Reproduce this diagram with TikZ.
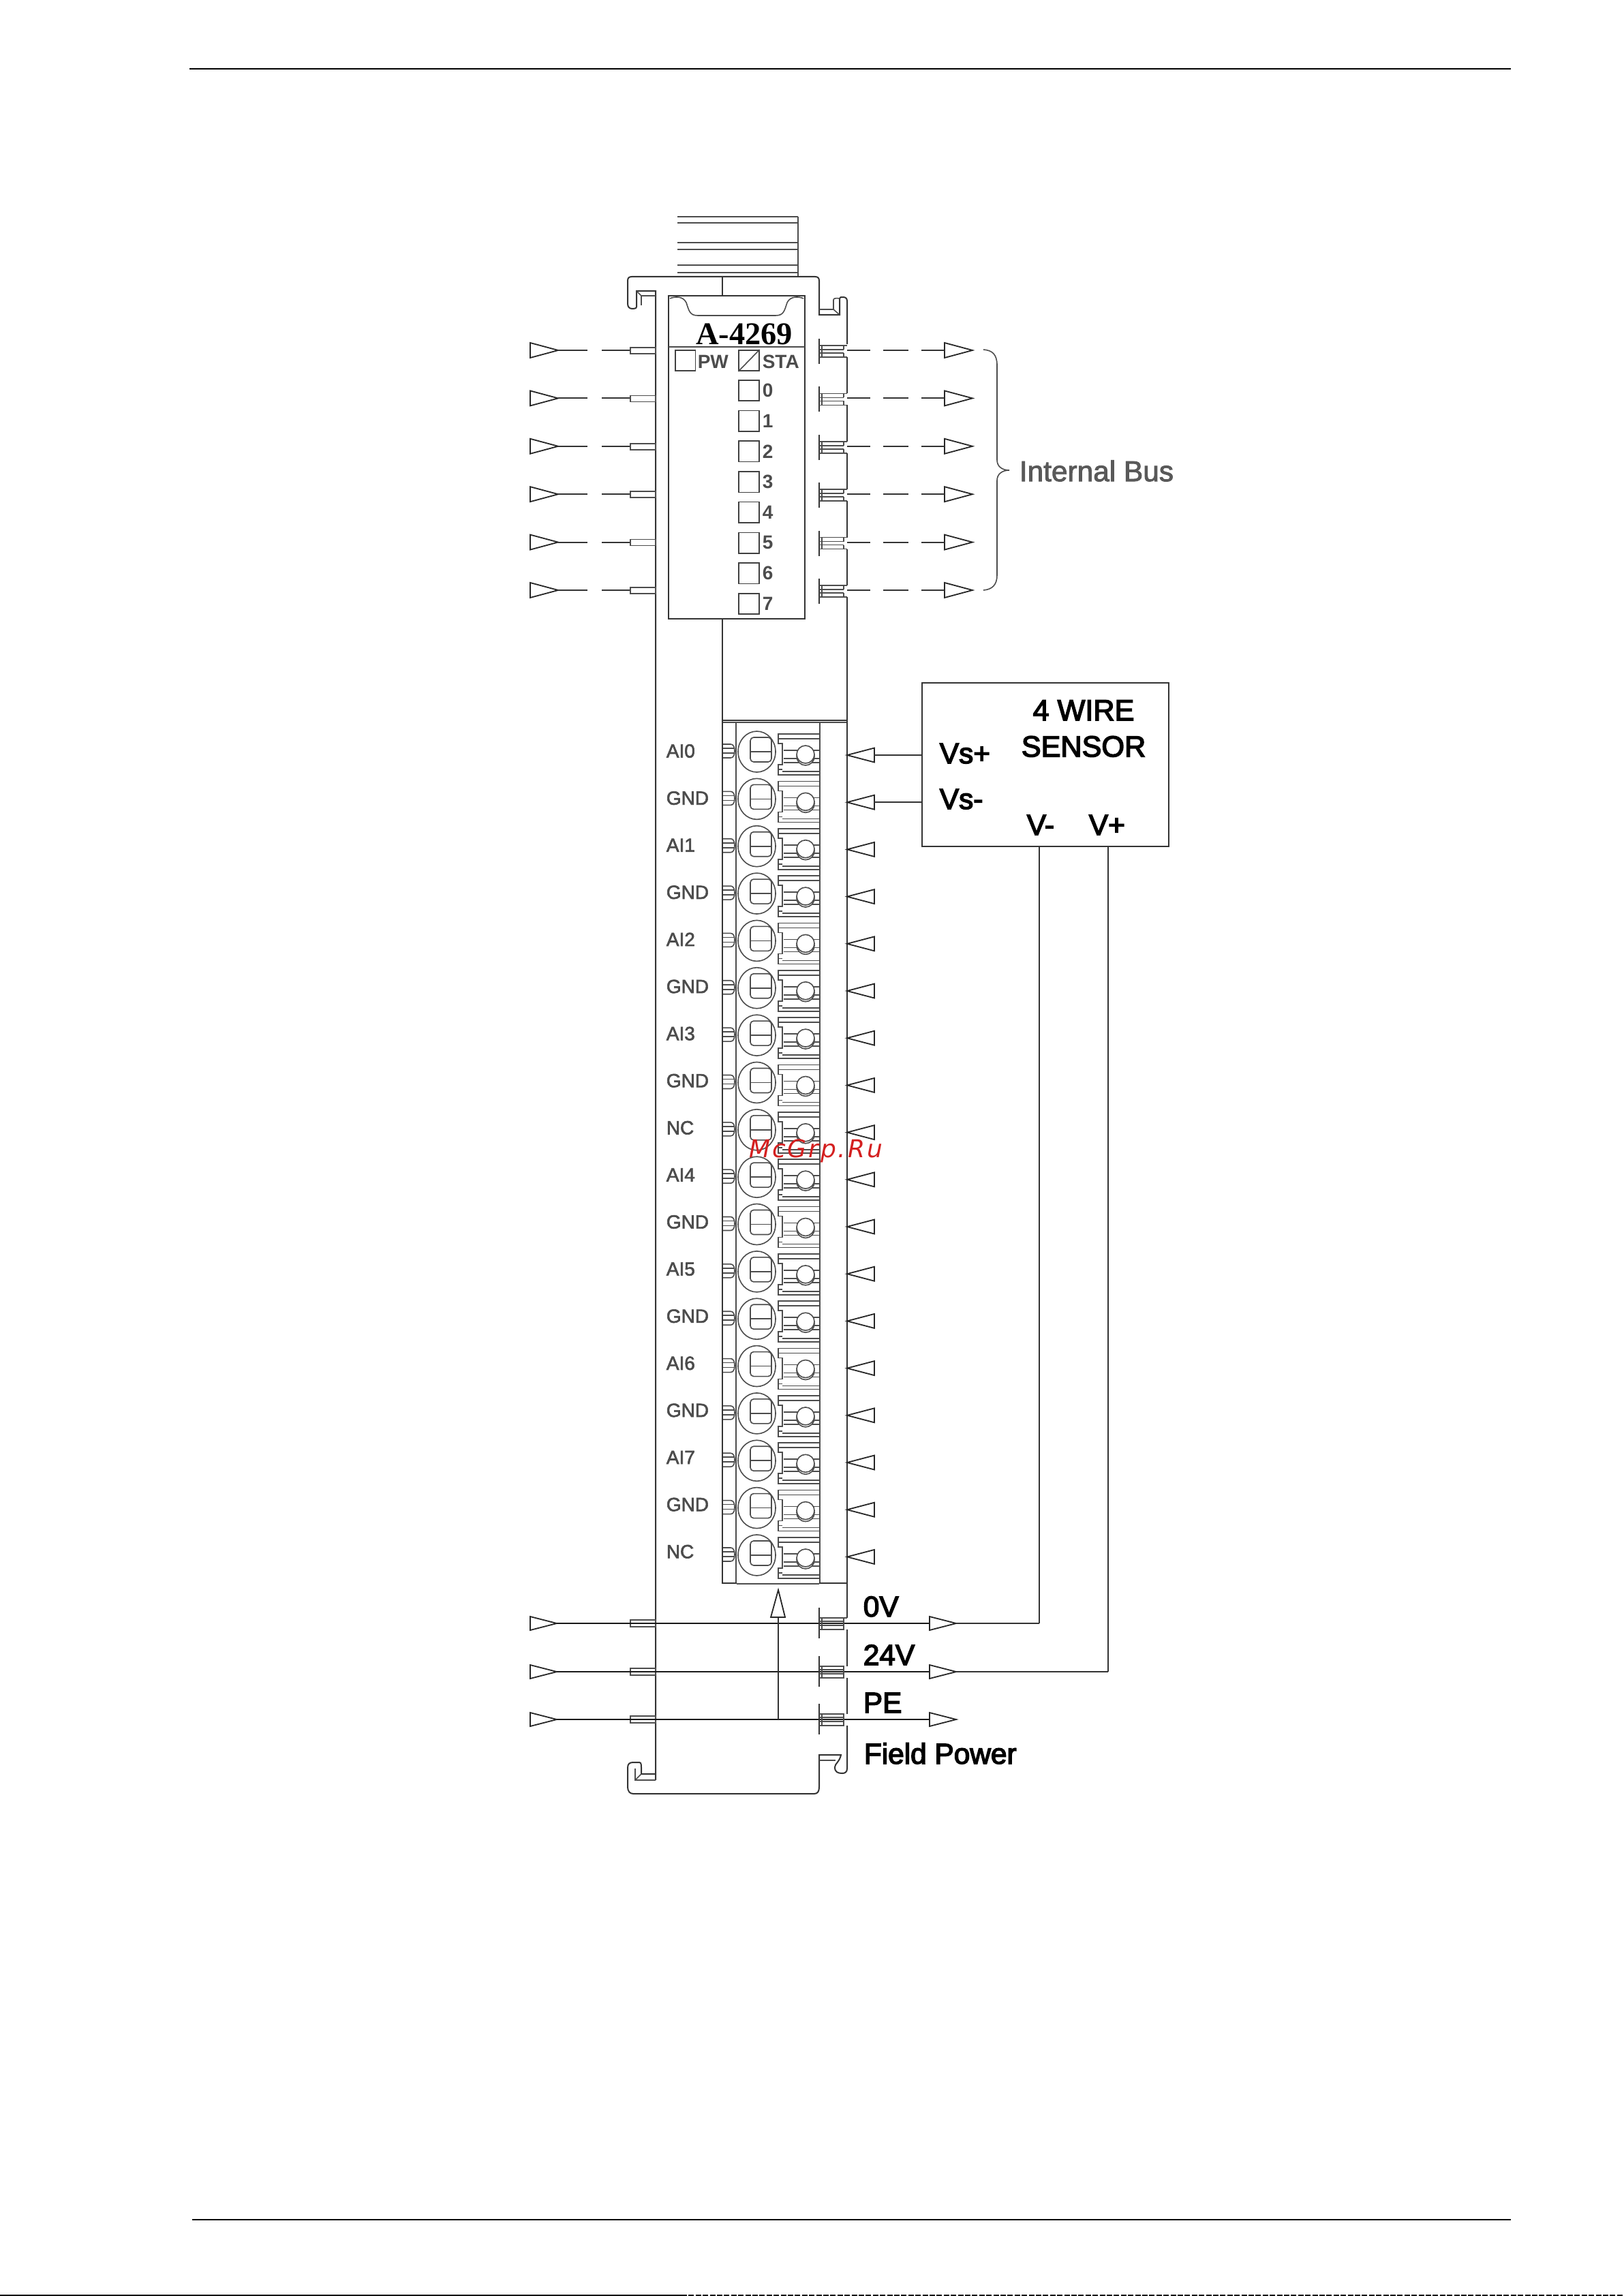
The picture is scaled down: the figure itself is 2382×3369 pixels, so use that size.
\documentclass[tikz,border=0pt]{standalone}
\usepackage{fontspec}
\setmainfont{Liberation Sans}
\newfontfamily\titlefont{Liberation Serif}
\newfontfamily\heavyfont[FakeBold=3.5]{Liberation Sans}
\newfontfamily\lightfont[FakeBold=2.2]{Liberation Sans}
\newfontfamily\stampfont[LetterSpace=8]{DejaVu Sans}
\tikzset{
    rule/.style={draw=black, line width=0.65pt},
    wire/.style={draw=black!80, line width=0.5pt},
    thin wire/.style={draw=black!70, line width=0.4pt},
    tip/.style={draw=black!85, fill=white, line width=0.45pt},
    pinlabel/.style={inner sep=0pt, anchor=west, text=black!70, font=\lightfont\fontsize{7}{8}\selectfont},
    ledlabel/.style={inner sep=0pt, anchor=west, text=black!70, font=\fontsize{7}{8}\selectfont\bfseries},
    sensorlabel/.style={inner sep=0pt, anchor=base west, font=\heavyfont\fontsize{10.6}{12}\selectfont},
    buslabel/.style={inner sep=0pt, anchor=west, text=black!65, font=\lightfont\fontsize{10.6}{12}\selectfont},
    led/.style={draw=black!75, line width=0.4pt, inner sep=0pt, minimum width=7.4pt, minimum height=7.6pt},
    sensorbox/.style={draw=black!80, line width=0.6pt, inner sep=0pt, minimum width=90.5pt, minimum height=60pt},
}
\begin{document}
\begin{tikzpicture}[x=0.25pt, y=-0.25pt]
    \useasboundingbox (0,0) rectangle (2382,3369);

    % page rules
    \coordinate (headL) at (278,101);
    \coordinate (headR) at (2217,101);
    \coordinate (footL) at (282,3257);
    \coordinate (footR) at (2217,3257);
    \coordinate (edgeL) at (0,3368);
    \coordinate (edgeM) at (1000,3368);
    \coordinate (edgeR) at (2382,3368);
    \draw[rule] (headL) -- (headR);
    \draw[rule] (footL) -- (footR);
    \draw[rule] (edgeL) -- (edgeM);
    \draw[rule, dash pattern=on 2pt off 0.6pt] (edgeM) -- (edgeR);

    % connector at the top
    \foreach \y in {318,327,356,366,389,400} {
        \draw[thin wire] (994,\y) -- (1171,\y);
    }
    \draw[thin wire] (1171,318) -- (1171,406);

    % housing, top
    \draw[wire] (962,2612) -- (962,427) -- (934,427) -- (934,450) .. controls (934,453) and (930,453) .. (928,453)
        .. controls (923,453) and (921,450) .. (921,445) -- (921,412) .. controls (921,408) and (923,406) .. (927,406)
        -- (1196,406) .. controls (1200,406) and (1202,408) .. (1202,412) -- (1202,462) -- (1232,462) -- (1232,438)
        .. controls (1232,436) and (1234,436) .. (1237,436) .. controls (1241,436) and (1243,438) .. (1243,442) -- (1243,505);
    \draw[thin wire] (962,434) -- (941,434) -- (941,448);
    \draw[thin wire] (934,427) -- (941,434);
    \draw[thin wire] (1202,454) -- (1223,454) -- (1223,440) .. controls (1223,438) and (1226,437) .. (1232,438);
    \draw[thin wire] (1223,454) -- (1232,462);

    % front plate
    \draw[wire, line width=0.6pt] (981,434) rectangle (1181,908);
    \draw[thin wire] (981,509) -- (1181,509);
    \draw[thin wire] (983,438) .. controls (990,435) and (1002,434) .. (1007,444) .. controls (1011,456) and (1012,463) .. (1024,463)
        -- (1138,463) .. controls (1150,463) and (1151,456) .. (1155,444) .. controls (1160,434) and (1172,435) .. (1179,438);
    \draw[wire] (1060,406) -- (1060,434);
    \draw[wire] (1060,908) -- (1060,1057);
    \node[inner sep=0pt, font=\titlefont\fontsize{11.6}{13}\selectfont\bfseries] (title) at (1092,490) {A-4269};

    % leds
    \node[led, minimum width=7.4pt] (pw) at (1005.5,529) {};
    \node[ledlabel] (pwtext) at (1023,531) {PW};
    \node[led] (sta) at (1099,529) {};
    \draw[thin wire] (sta.south west) -- (sta.north east);
    \node[ledlabel] (statext) at (1118,531) {STA};
    \foreach \i in {0,...,7} {
        \node[led] (led\i) at (1099,{573+\i*44.7}) {};
        \node[ledlabel] at (1118,{573+\i*44.7}) {\i};
    }

    % internal bus rows
    \foreach \i in {0,...,5} {
        \pgfmathsetmacro{\rowy}{514+\i*70.4}
        \pgfmathsetmacro{\rowa}{\rowy-7}
        \pgfmathsetmacro{\rowb}{\rowy+10}
        \coordinate (busL\i) at (819,\rowy);
        \coordinate (busR\i) at (1427,\rowy);
        \filldraw[tip] (busL\i) -- ++(-41,-11) -- ++(0,22) -- cycle;
        \draw[wire, dash pattern=on 10.75pt off 5.25pt] (busL\i) -- (925,\rowy);
        \draw[thin wire] (925,\rowy-4) rectangle (962,\rowy+5);
        \filldraw[tip] (busR\i) -- ++(-41,-11) -- ++(0,22) -- cycle;
        \draw[wire, dash pattern=on 8.5pt off 4.75pt on 9.25pt off 4.75pt] (1243,\rowy) -- (1386,\rowy);
        % notch in the wall
        \draw[wire] (1202,\rowy-17) -- (1202,\rowy+20);
        \draw[thin wire] (1206,\rowy-7) -- (1206,\rowy+10);
        \draw[thin wire] (1202,\rowa) -- (1243,\rowa);
        \draw[thin wire] (1202,\rowb) -- (1243,\rowb);
        \draw[thin wire] (1202,\rowy-1) -- (1238,\rowy-1);
        \draw[thin wire] (1202,\rowy+4) -- (1238,\rowy+4);
        \draw[thin wire] (1238,\rowa) -- (1238,\rowy-1);
        \draw[thin wire] (1238,\rowy+4) -- (1238,\rowb);
        \ifnum\i<5
            \draw[wire] (1243,\rowb) -- (1243,\rowa+70.4);
        \else
            \draw[wire] (1243,\rowb) -- (1243,1057);
        \fi
    }

    % brace for the bus
    \draw[thin wire] (1443,513) .. controls (1456,514) and (1463,520) .. (1463,536) -- (1463,675)
        .. controls (1463,684) and (1470,690) .. (1481,690) .. controls (1470,690) and (1463,696) .. (1463,705)
        -- (1463,844) .. controls (1463,858) and (1456,865) .. (1443,866);
    \node[buslabel] (bustext) at (1495,691) {Internal Bus};

    % terminal block
    \draw[wire] (1060,1057) -- (1243,1057);
    \draw[thin wire] (1060,1060) -- (1243,1060);
    \draw[wire] (1060,1057) -- (1060,2324);
    \draw[thin wire] (1080,1060) -- (1080,2324);
    \draw[thin wire] (1203,1060) -- (1203,2324);
    \draw[wire] (1060,2323) -- (1081,2323);
    \draw[wire] (1202,2323) -- (1243,2323);
    \draw[thin wire] (1081,2324) -- (1202,2324);
    \draw[wire] (1243,1057) -- (1243,2374);

    \foreach \i/\txt in {0/AI0,1/GND,2/AI1,3/GND,4/AI2,5/GND,6/AI3,7/GND,8/NC,9/AI4,10/GND,11/AI5,12/GND,13/AI6,14/GND,15/AI7,16/GND,17/NC} {
        \begin{scope}[shift={(0,{\i*69.35})}]
            % pin and screw
            \draw[thin wire] (1061,1092) -- (1072,1092) .. controls (1076,1092) and (1078,1096) .. (1078,1102) .. controls (1078,1108) and (1076,1112) .. (1072,1112) -- (1061,1112);
            \draw[thin wire] (1061,1098) -- (1077,1098);
            \draw[thin wire] (1061,1105) -- (1077,1105);
            \draw[thin wire] (1110.5,1103) ellipse (27.5 and 30);
            \draw[thin wire, rounded corners=1.2pt] (1101,1082) rectangle (1132,1118);
            \draw[thin wire] (1101,1103) -- (1132,1103);
            % clamp
            \draw[thin wire] (1203,1077) -- (1142,1077) -- (1142,1091) -- (1148,1091) -- (1148,1122) -- (1142,1122) -- (1142,1137) -- (1203,1137);
            \draw[thin wire] (1142,1084) -- (1203,1084);
            \draw[thin wire] (1142,1129) -- (1148,1129);
            \draw[thin wire] (1148,1132) -- (1203,1132);
            \draw[thin wire] (1150,1101) -- (1203,1101);
            \draw[thin wire] (1150,1113) -- (1203,1113);
            \draw[thin wire] (1150,1119) -- (1203,1119);
            \filldraw[thin wire, fill=white] (1182,1110) circle (13);
            \filldraw[thin wire, fill=white] (1182,1107) circle (13);
        \end{scope}
        \coordinate (term\i) at (1243,{1108+\i*69.2});
        \filldraw[tip] (term\i) -- ++(40,-10.5) -- ++(0,21) -- cycle;
        \node[pinlabel] (pin\i) at (977,{1102+\i*69.1}) {\txt};
    }

    % sensor
    \node[sensorbox] (sensor) at (1534,1122) {};
    \node[inner sep=0pt, align=center, font=\heavyfont\fontsize{10.8}{13.3}\selectfont] (sensortext) at (1590,1069) {4 WIRE\\SENSOR};
    \node[sensorlabel] (vsp) at (1378,1120) {Vs+};
    \node[sensorlabel] (vsm) at (1378,1187) {Vs-};
    \node[sensorlabel] (vm) at (1506,1225) {V-};
    \node[sensorlabel] (vp) at (1597,1225) {V+};

    \coordinate (tm) at (1525,2382);
    \coordinate (tp) at (1626,2453);
    \draw[wire] (sensor.west |- term0) -- ++(-70,0);
    \draw[wire] (sensor.west |- term1) -- ++(-70,0);
    \draw[wire] (sensor.south -| tm) -- (tm);
    \draw[wire] (sensor.south -| tp) -- (tp);

    % field power rows
    \foreach \i/\y/\txt in {0/2382/0V,1/2453/24V,2/2523/PE} {
        \coordinate (powL\i) at (817,\y);
        \coordinate (powR\i) at (1403,\y);
        \filldraw[tip] (powL\i) -- ++(-39,-10) -- ++(0,20) -- cycle;
        \draw[thin wire] (925,\y-5) rectangle (962,\y+5);
        \draw[wire, draw=black!90, line width=0.55pt] (powL\i) -- (powR\i);
        \filldraw[tip] (powR\i) -- ++(-39,-10) -- ++(0,20) -- cycle;
        \draw[wire] (1202,\y-23) -- (1202,\y+22);
        \draw[thin wire] (1206,\y-8) -- (1206,\y+8);
        \draw[thin wire] (1202,\y-8) -- (1238,\y-8) -- (1238,\y+9) -- (1202,\y+9);
        \draw[thin wire] (1202,\y-3) -- (1238,\y-3);
        \draw[thin wire] (1202,\y+3) -- (1238,\y+3);
        \node[sensorlabel] (pow\i) at (1266,\y-10) {\txt};
    }
    \draw[thin wire] (1243,2374) -- (1238,2374);
    \draw[wire] (1243,2391) -- (1243,2445);
    \draw[wire] (1243,2462) -- (1243,2515);
    \draw[wire] (powR0) -- (tm);
    \draw[wire] (powR1) -- (tp);
    \node[sensorlabel] (fieldpower) at (1267,2588) {Field Power};

    % arrow up to the block
    \coordinate (feed) at (1142,2373);
    \draw[wire] (powL2 -| feed) -- (feed);
    \filldraw[tip] (1142,2333) -- (1152,2373) -- (1131,2373) -- cycle;

    % housing, bottom
    \draw[wire] (1243,2532) -- (1243,2595) .. controls (1243,2600) and (1240,2602) .. (1236,2602) .. controls (1229,2602) and (1225,2600) .. (1225,2593) .. controls (1225,2588) and (1232,2585) .. (1234,2575) -- (1202,2575)
        -- (1202,2622) .. controls (1202,2628) and (1200,2632) .. (1195,2632) -- (929,2632) .. controls (924,2632) and (921,2628) .. (921,2622) -- (921,2594)
        .. controls (921,2588) and (924,2586) .. (929,2586) -- (938,2586) .. controls (941,2586) and (941,2590) .. (941,2594) -- (941,2603) -- (962,2603);
    \draw[thin wire] (932,2595) -- (932,2612) -- (962,2612);
    \draw[thin wire] (932,2612) -- (941,2603);
    \draw[thin wire] (1202,2583) -- (1226,2583);

    % stamp
    \node[inner sep=0pt, anchor=base, text={rgb,255:red,212;green,32;blue,32}, font=\stampfont\itshape\fontsize{9}{11}\selectfont] (stamp) at (1197,1698) {McGrp.Ru};
\end{tikzpicture}
\end{document}
